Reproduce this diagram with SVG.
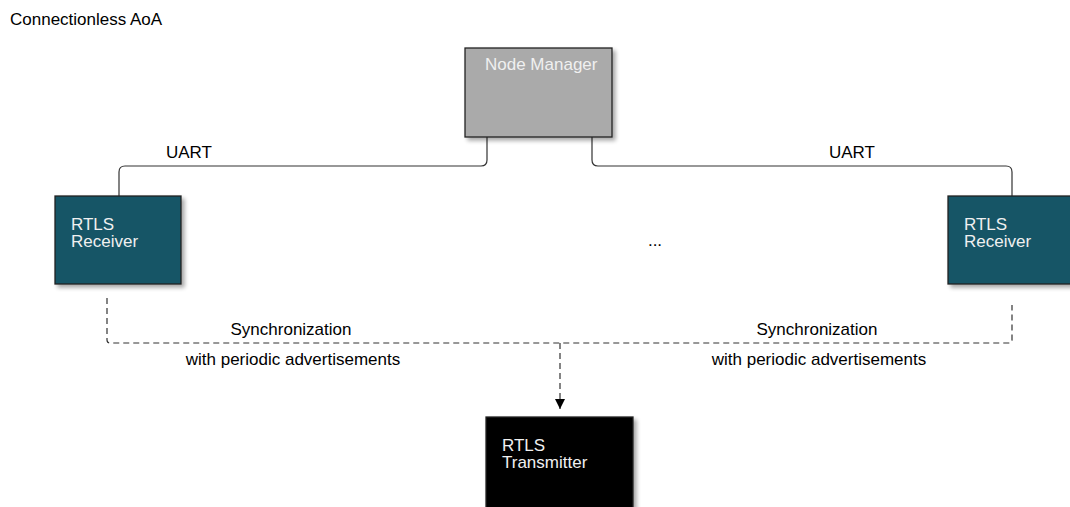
<svg xmlns="http://www.w3.org/2000/svg" width="1070" height="507" viewBox="0 0 1070 507">
  <defs>
    <filter id="shadow" x="-10%" y="-10%" width="130%" height="130%">
      <feGaussianBlur in="SourceAlpha" stdDeviation="2"/>
      <feOffset dx="3" dy="3" result="b"/>
      <feComponentTransfer><feFuncA type="linear" slope="0.35"/></feComponentTransfer>
      <feMerge><feMergeNode/><feMergeNode in="SourceGraphic"/></feMerge>
    </filter>
    <marker id="arrow" viewBox="0 0 10 10" refX="10" refY="5" markerWidth="10" markerHeight="10" markerUnits="userSpaceOnUse" orient="auto">
      <path d="M0,0 L10,5 L0,10 z" fill="#000"/>
    </marker>
  </defs>
  <style>
    text { font-family: "Liberation Sans", Arial, sans-serif; font-size: 17px; }
    .lbl { fill: #000; }
    .light { fill: #f0f0f0; }
    .box { stroke: #222; stroke-width: 1.3; }
    .wire { fill: none; stroke: #333; stroke-width: 1.2; }
    .dash { fill: none; stroke: #333; stroke-width: 1.2; stroke-dasharray: 6 4; }
  </style>
  <rect width="1070" height="507" fill="#fff"/>
  <text class="lbl" x="10" y="25">Connectionless AoA</text>

  <g id="connectors">
    <path class="wire" d="M487,137 V160 Q487,166 481,166 H125 Q119,166 119,172 V196"/>
    <path class="wire" d="M592,137 V160 Q592,166 598,166 H1006 Q1012,166 1012,172 V196"/>
    <path class="dash" d="M107,298 V340 Q107,343 110,343 H1009 Q1012,343 1012,340 V305"/>
    <path class="dash" d="M560,343 V409" marker-end="url(#arrow)"/>
    <text class="lbl" x="166" y="158">UART</text>
    <text class="lbl" x="829" y="158">UART</text>
    <text class="lbl" x="291" y="335" text-anchor="middle">Synchronization</text>
    <text class="lbl" x="293" y="365" text-anchor="middle">with periodic advertisements</text>
    <text class="lbl" x="817" y="335" text-anchor="middle">Synchronization</text>
    <text class="lbl" x="819" y="365" text-anchor="middle">with periodic advertisements</text>
  </g>

  <g id="node-manager">
    <rect class="box" x="465" y="48" width="147" height="89" fill="#aaaaaa" filter="url(#shadow)"/>
    <text class="light" x="485" y="70">Node Manager</text>
  </g>

  <g id="receiver-left">
    <rect class="box" x="55" y="196" width="126" height="88" fill="#135566" filter="url(#shadow)"/>
    <text class="light" x="71" y="230">RTLS</text>
    <text class="light" x="71" y="247">Receiver</text>
  </g>

  <g id="receiver-right">
    <rect class="box" x="948" y="196" width="126" height="88" fill="#135566" filter="url(#shadow)"/>
    <text class="light" x="964" y="230">RTLS</text>
    <text class="light" x="964" y="247">Receiver</text>
  </g>

  <g id="ellipsis">
    <text class="lbl" x="655" y="246" text-anchor="middle">...</text>
  </g>

  <g id="transmitter">
    <rect class="box" x="486" y="417" width="147" height="92" fill="#000" filter="url(#shadow)"/>
    <text class="light" x="502" y="451">RTLS</text>
    <text class="light" x="502" y="468">Transmitter</text>
  </g>
</svg>
